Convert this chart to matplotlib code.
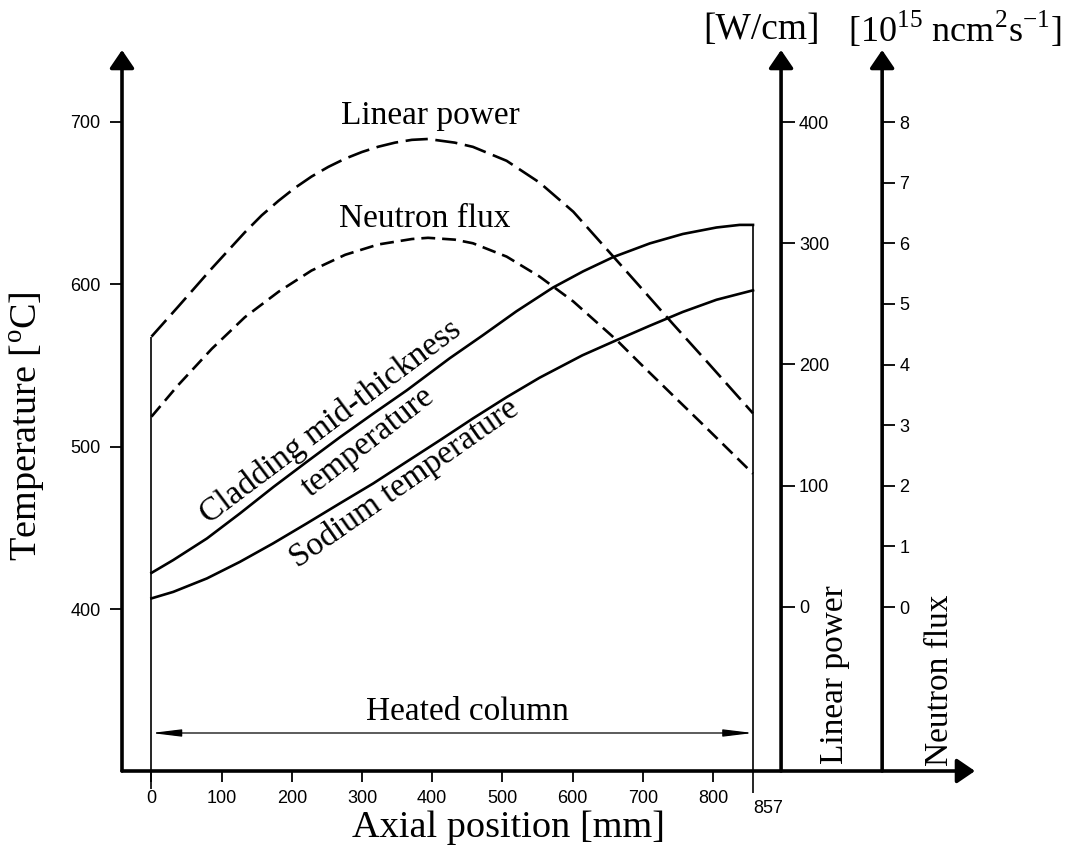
import matplotlib.pyplot as plt

plt.rcParams['lines.scale_dashes'] = False
plt.rcParams['mathtext.fontset'] = 'custom'
plt.rcParams['mathtext.rm'] = 'Liberation Serif'

# linear power [W/cm] vs axial position [mm]
power_x = [0, 38, 86, 133, 157, 181, 204, 228, 252, 276, 300, 323, 347, 371, 394, 432,
           458, 506, 553, 601, 658, 696, 743, 791, 857]
power_wcm = [223, 247.7, 279.3, 309, 323, 335, 345.5, 355, 363, 369.8, 375.3, 379.6,
             383, 385.3, 386, 383, 379.5, 368, 350, 326, 289, 264.2, 233.4, 202.6, 159.7]

# neutron flux [1e15 n/cm2/s]
flux_x = [0, 38, 86, 133, 181, 228, 276, 323, 371, 394, 432, 458, 506, 553, 601, 663,
          696, 743, 791, 857]
flux_val = [3.14, 3.66, 4.26, 4.78, 5.2, 5.55, 5.81, 5.98, 6.07, 6.09, 6.06, 6.0, 5.78,
            5.45, 5.04, 4.40, 4.02, 3.49, 2.95, 2.2]

# cladding mid-thickness temperature [degC]
clad_x = [0, 31, 79, 126, 174, 221, 269, 316, 364, 425, 472, 520, 572, 615, 658, 710,
          757, 805, 838, 857]
clad_temp = [422.3, 430.2, 443.5, 458.9, 475.3, 490.6, 506, 520.4, 534.8, 554.5, 568.6,
             583.4, 598, 608, 616.8, 625.2, 631, 635, 636.6, 636.6]

# sodium temperature [degC]
sodium_x = [0, 31, 79, 126, 173, 221, 268, 316, 363, 411, 458, 506, 553, 614, 662, 710,
            757, 805, 857]
sodium_temp = [406.6, 410.6, 418.9, 429.1, 440.4, 452.7, 465, 477.4, 490.6, 504, 517.4,
               530.5, 542.5, 556.3, 565.5, 574.5, 583, 590.5, 596.3]

temp_ticks = [400, 500, 600, 700]
power_ticks = [0, 100, 200, 300, 400]
flux_ticks = [0, 1, 2, 3, 4, 5, 6, 7, 8]
x_ticks = [0, 100, 200, 300, 400, 500, 600, 700, 800]

W, H = 1073, 851
serif = 'Liberation Serif'
sans = 'Liberation Sans'

fig = plt.figure(figsize=(W / 100, H / 100), dpi=100)
ax = fig.add_axes([122 / W, 1 - 771 / H, (975 - 122) / W, (771 - 50) / H])
ax.set_xlim(-42.0, 1173.3)
ax.set_ylim(300.3, 744.3)

ax_p = ax.twinx()
ax_p.set_ylim(-135.3, 459.4)
ax_f = ax.twinx()
ax_f.set_ylim(-2.705, 9.188)

for a in (ax, ax_p, ax_f):
    for s in a.spines.values():
        s.set_visible(False)
    a.patch.set_visible(False)

ax_p.spines['right'].set_position(('data', 897))
ax_f.spines['right'].set_position(('data', 1041))

# axis lines with arrow heads
arrow_kw = dict(arrowstyle='-|>,head_length=1.1,head_width=0.75', lw=2.6, color='black',
                shrinkA=0, shrinkB=0)
ax.annotate('', xy=(0, 1), xytext=(0, 0), xycoords='axes fraction', arrowprops=arrow_kw)
ax.annotate('', xy=(1, 0), xytext=(0, 0), xycoords='axes fraction', arrowprops=arrow_kw)
for xs in (897, 1041):
    ax.annotate('', xy=(xs, 1), xytext=(xs, 0), xycoords=ax.get_xaxis_transform(),
                arrowprops=arrow_kw)

# ticks
ax.set_yticks(temp_ticks)
ax.tick_params(axis='y', direction='out', length=8.5, width=1.3, pad=7, labelsize=13)
ax.set_xticks(x_ticks)
ax.tick_params(axis='x', direction='out', length=8, width=1.3, pad=6, labelsize=13)
ax_p.set_yticks(power_ticks)
ax_p.tick_params(axis='y', direction='out', length=10, width=1.3, pad=3, labelsize=13)
ax_f.set_yticks(flux_ticks)
ax_f.tick_params(axis='y', direction='out', length=9.5, width=1.3, pad=3, labelsize=13)
for a in (ax, ax_p, ax_f):
    for lab in a.get_xticklabels() + a.get_yticklabels():
        lab.set_fontfamily(sans)
ax.text(878, 277.5, '857', fontsize=13, family=sans, ha='center', va='center',
        clip_on=False)

# curves
ax.plot(clad_x, clad_temp, color='black', lw=1.9)
ax.plot(sodium_x, sodium_temp, color='black', lw=1.9)
ax_p.plot(power_x, power_wcm, color='black', lw=1.9, dashes=(16, 5.5))
ax_f.plot(flux_x, flux_val, color='black', lw=1.9, dashes=(10, 5))

# heated column boundaries
ax_p.vlines(0, -150, power_wcm[0], color='black', lw=1.2, clip_on=False)
ax.vlines(857, 287, clad_temp[-1], color='black', lw=1.2, clip_on=False)
ax.annotate('', xy=(0, 323.7), xytext=(857, 323.7),
            arrowprops=dict(arrowstyle='<|-|>,head_length=1.8,head_width=0.22', lw=0.9,
                            color='black', shrinkA=0, shrinkB=0))
ax.text(449.5, 336.6, 'Heated column', fontsize=24, family=serif, ha='center', va='center')

# curve labels
ax.text(397, 704, 'Linear power', fontsize=24, family=serif, ha='center', va='center')
ax.text(390, 640.6, 'Neutron flux', fontsize=24, family=serif, ha='center', va='center')
ax.text(254.7, 515, 'Cladding mid-thickness', fontsize=24, family=serif, ha='center',
        va='center', rotation=37, rotation_mode='anchor')
ax.text(308, 503, 'temperature', fontsize=24, family=serif, ha='center', va='center',
        rotation=38, rotation_mode='anchor')
ax.text(361, 477.5, 'Sodium temperature', fontsize=24, family=serif, ha='center',
        va='center', rotation=35, rotation_mode='anchor')

# axis titles
fig.text(28 / W, 1 - 426 / H, r'Temperature [$^{\mathregular{o}}$C]', fontsize=27.5,
         family=serif, rotation=90, ha='center', va='center')
fig.text(508 / W, 1 - 828 / H, 'Axial position [mm]', fontsize=27.5, family=serif,
         ha='center', va='center')
fig.text(761 / W, 1 - 30 / H, '[W/cm]', fontsize=27, family=serif, ha='center', va='center')
fig.text(955 / W, 1 - 30 / H,
         r'[10$^{\mathregular{15}}$ ncm$^{\mathregular{2}}$s$^{\mathregular{-1}}$]',
         fontsize=26, family=serif, ha='center', va='center')
fig.text(835 / W, 1 - 675 / H, 'Linear power', fontsize=24, family=serif, rotation=90,
         ha='center', va='center')
fig.text(940 / W, 1 - 680 / H, 'Neutron flux', fontsize=24, family=serif, rotation=90,
         ha='center', va='center')

fig.savefig('out.png', dpi=100)
